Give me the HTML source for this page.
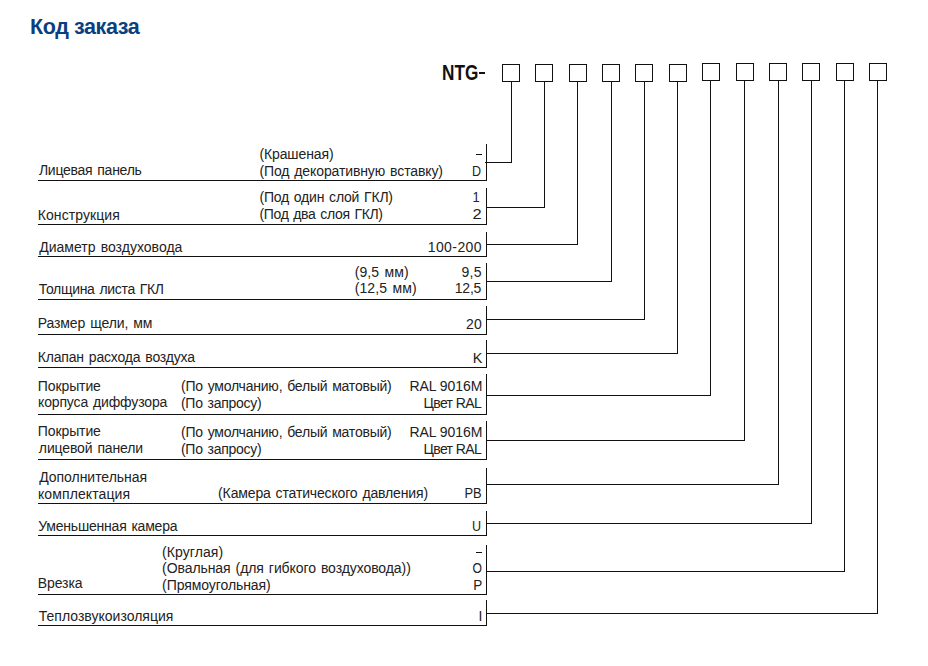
<!DOCTYPE html>
<html><head><meta charset="utf-8"><style>
html,body{margin:0;padding:0;background:#fff;}
body{width:928px;height:666px;position:relative;overflow:hidden;font-family:"Liberation Sans",sans-serif;}
.t{position:absolute;font-size:14px;line-height:14px;color:#222;white-space:nowrap;word-spacing:1.2px;}
h1{position:absolute;margin:0;font-size:21.5px;line-height:21.5px;font-weight:bold;color:#0b3f7d;white-space:nowrap;letter-spacing:-0.4px;}
.ntg{position:absolute;font-size:21.5px;line-height:21.5px;font-weight:bold;color:#111;white-space:nowrap;transform-origin:0 0;}
svg{position:absolute;left:0;top:0;}
.d{position:absolute;width:6px;height:1px;background:#111;}
</style></head><body>
<h1 style="left:30px;top:16.80px">Код заказа</h1>
<div class="ntg" style="left:441.8px;top:62.80px;transform:scaleX(0.80)">NTG</div><div style="position:absolute;left:479px;top:72px;width:6px;height:2px;background:#111"></div>
<div class="t" style="left:38.89px;top:163.15px;letter-spacing:-0.250px">Лицевая панель</div>
<div class="t" style="left:37.75px;top:208.15px;letter-spacing:0.076px">Конструкция</div>
<div class="t" style="left:39.22px;top:240.15px;letter-spacing:0.016px">Диаметр воздуховода</div>
<div class="t" style="left:38.73px;top:282.15px;letter-spacing:-0.297px">Толщина листа ГКЛ</div>
<div class="t" style="left:37.75px;top:316.15px;letter-spacing:-0.111px">Размер щели, мм</div>
<div class="t" style="left:37.75px;top:350.15px;letter-spacing:-0.179px">Клапан расхода воздуха</div>
<div class="t" style="left:37.86px;top:379.15px;letter-spacing:-0.117px">Покрытие</div>
<div class="t" style="left:37.99px;top:395.15px;letter-spacing:-0.141px">корпуса диффузора</div>
<div class="t" style="left:37.86px;top:424.15px;letter-spacing:-0.117px">Покрытие</div>
<div class="t" style="left:38.87px;top:441.15px;letter-spacing:-0.135px">лицевой панели</div>
<div class="t" style="left:39.22px;top:470.15px;letter-spacing:-0.041px">Дополнительная</div>
<div class="t" style="left:37.99px;top:487.15px;letter-spacing:0.094px">комплектация</div>
<div class="t" style="left:38.30px;top:519.15px;letter-spacing:-0.213px">Уменьшенная камера</div>
<div class="t" style="left:37.75px;top:576.15px;letter-spacing:-0.087px">Врезка</div>
<div class="t" style="left:38.73px;top:609.15px;letter-spacing:0.015px">Теплозвукоизоляция</div>
<div class="t" style="left:259.44px;top:147.15px;letter-spacing:-0.118px">(Крашеная)</div>
<div class="t" style="left:259.44px;top:164.15px;letter-spacing:-0.116px">(Под декоративную вставку)</div>
<div class="t" style="left:259.44px;top:190.15px;letter-spacing:-0.210px">(Под один слой ГКЛ)</div>
<div class="t" style="left:259.44px;top:207.15px;letter-spacing:-0.330px">(Под два слоя ГКЛ)</div>
<div class="t" style="left:354.64px;top:265.15px;letter-spacing:0.117px">(9,5 мм)</div>
<div class="t" style="left:354.64px;top:281.15px;letter-spacing:0.128px">(12,5 мм)</div>
<div class="t" style="left:180.98px;top:379.15px;letter-spacing:-0.220px">(По умолчанию, белый матовый)</div>
<div class="t" style="left:180.98px;top:396.15px;letter-spacing:-0.270px">(По запросу)</div>
<div class="t" style="left:180.98px;top:425.15px;letter-spacing:-0.220px">(По умолчанию, белый матовый)</div>
<div class="t" style="left:180.98px;top:442.15px;letter-spacing:-0.270px">(По запросу)</div>
<div class="t" style="left:218.11px;top:486.15px;letter-spacing:-0.149px">(Камера статического давления)</div>
<div class="t" style="left:162.10px;top:545.15px;letter-spacing:0.065px">(Круглая)</div>
<div class="t" style="left:162.10px;top:561.15px;letter-spacing:-0.079px">(Овальная (для гибкого воздуховода))</div>
<div class="t" style="left:162.10px;top:578.15px;letter-spacing:-0.074px">(Прямоугольная)</div>
<div class="t" style="right:446.85px;top:164.15px;word-spacing:0;transform:scaleX(0.896);transform-origin:right center">D</div>
<div class="t" style="right:447.94px;top:190.15px;word-spacing:0;transform:scaleX(0.921);transform-origin:right center">1</div>
<div class="t" style="right:446.26px;top:207.15px;word-spacing:0;transform:scaleX(1.177);transform-origin:right center">2</div>
<div class="t" style="right:446.03px;top:240.15px;word-spacing:0;letter-spacing:0.414px">100-200</div>
<div class="t" style="right:446.09px;top:265.15px;word-spacing:0;letter-spacing:0.316px">9,5</div>
<div class="t" style="right:446.91px;top:281.15px;word-spacing:0;letter-spacing:-0.246px">12,5</div>
<div class="t" style="right:446.23px;top:317.15px;word-spacing:0;letter-spacing:0.069px">20</div>
<div class="t" style="right:445.70px;top:351.15px;word-spacing:0;transform:scaleX(1.033);transform-origin:right center">K</div>
<div class="t" style="right:445.77px;top:379.15px;word-spacing:0;letter-spacing:-0.072px">RAL 9016M</div>
<div class="t" style="right:446.95px;top:396.15px;word-spacing:0;letter-spacing:-0.613px">Цвет RAL</div>
<div class="t" style="right:445.77px;top:425.15px;word-spacing:0;letter-spacing:-0.072px">RAL 9016M</div>
<div class="t" style="right:446.95px;top:442.15px;word-spacing:0;letter-spacing:-0.613px">Цвет RAL</div>
<div class="t" style="right:446.47px;top:486.15px;word-spacing:0;transform:scaleX(0.923);transform-origin:right center">PB</div>
<div class="t" style="right:446.53px;top:519.15px;word-spacing:0;transform:scaleX(0.897);transform-origin:right center">U</div>
<div class="t" style="right:446.55px;top:561.15px;word-spacing:0;transform:scaleX(0.868);transform-origin:right center">O</div>
<div class="t" style="right:445.63px;top:578.15px;word-spacing:0;transform:scaleX(0.966);transform-origin:right center">P</div>
<div class="t" style="right:445.52px;top:609.15px;word-spacing:0">I</div>
<div class="d" style="left:476px;top:154px"></div><div class="d" style="left:476px;top:552px"></div>
<svg width="928" height="666" viewBox="0 0 928 666" shape-rendering="crispEdges"><g stroke="#111" stroke-width="1" fill="none"><rect x="502.5" y="64.5" width="17" height="17"/><rect x="535.5" y="64.5" width="17" height="17"/><rect x="569.5" y="64.5" width="17" height="17"/><rect x="602.5" y="64.5" width="17" height="17"/><rect x="635.5" y="64.5" width="17" height="17"/><rect x="669.5" y="64.5" width="17" height="17"/><rect x="702.5" y="63.5" width="17" height="17"/><rect x="736.5" y="63.5" width="17" height="17"/><rect x="769.5" y="63.5" width="17" height="17"/><rect x="802.5" y="63.5" width="17" height="17"/><rect x="836.5" y="63.5" width="17" height="17"/><rect x="869.5" y="63.5" width="17" height="17"/><path d="M38 180.5H486.5V144M485 162.5H511.5V81"/><path d="M38 224.5H486.5V188M486 207.5H544.5V81"/><path d="M38 256.5H486.5V232M486 244.5H577.5V81"/><path d="M38 299.5H486.5V263M486 281.5H611.5V81"/><path d="M38 334.5H486.5V306M486 319.5H644.5V81"/><path d="M38 367.5H486.5V340M486 353.5H677.5V81"/><path d="M38 414.5H486.5V374M486 395.5H710.5V80"/><path d="M38 459.5H486.5V421M486 440.5H744.5V80"/><path d="M38 503.5H486.5V468M486 484.5H778.5V80"/><path d="M38 535.5H486.5V511M486 523.5H811.5V80"/><path d="M38 594.5H486.5V545M486 571.5H844.5V80"/><path d="M38 625.5H486.5V600M486 613.5H877.5V80"/></g></svg>
</body></html>
